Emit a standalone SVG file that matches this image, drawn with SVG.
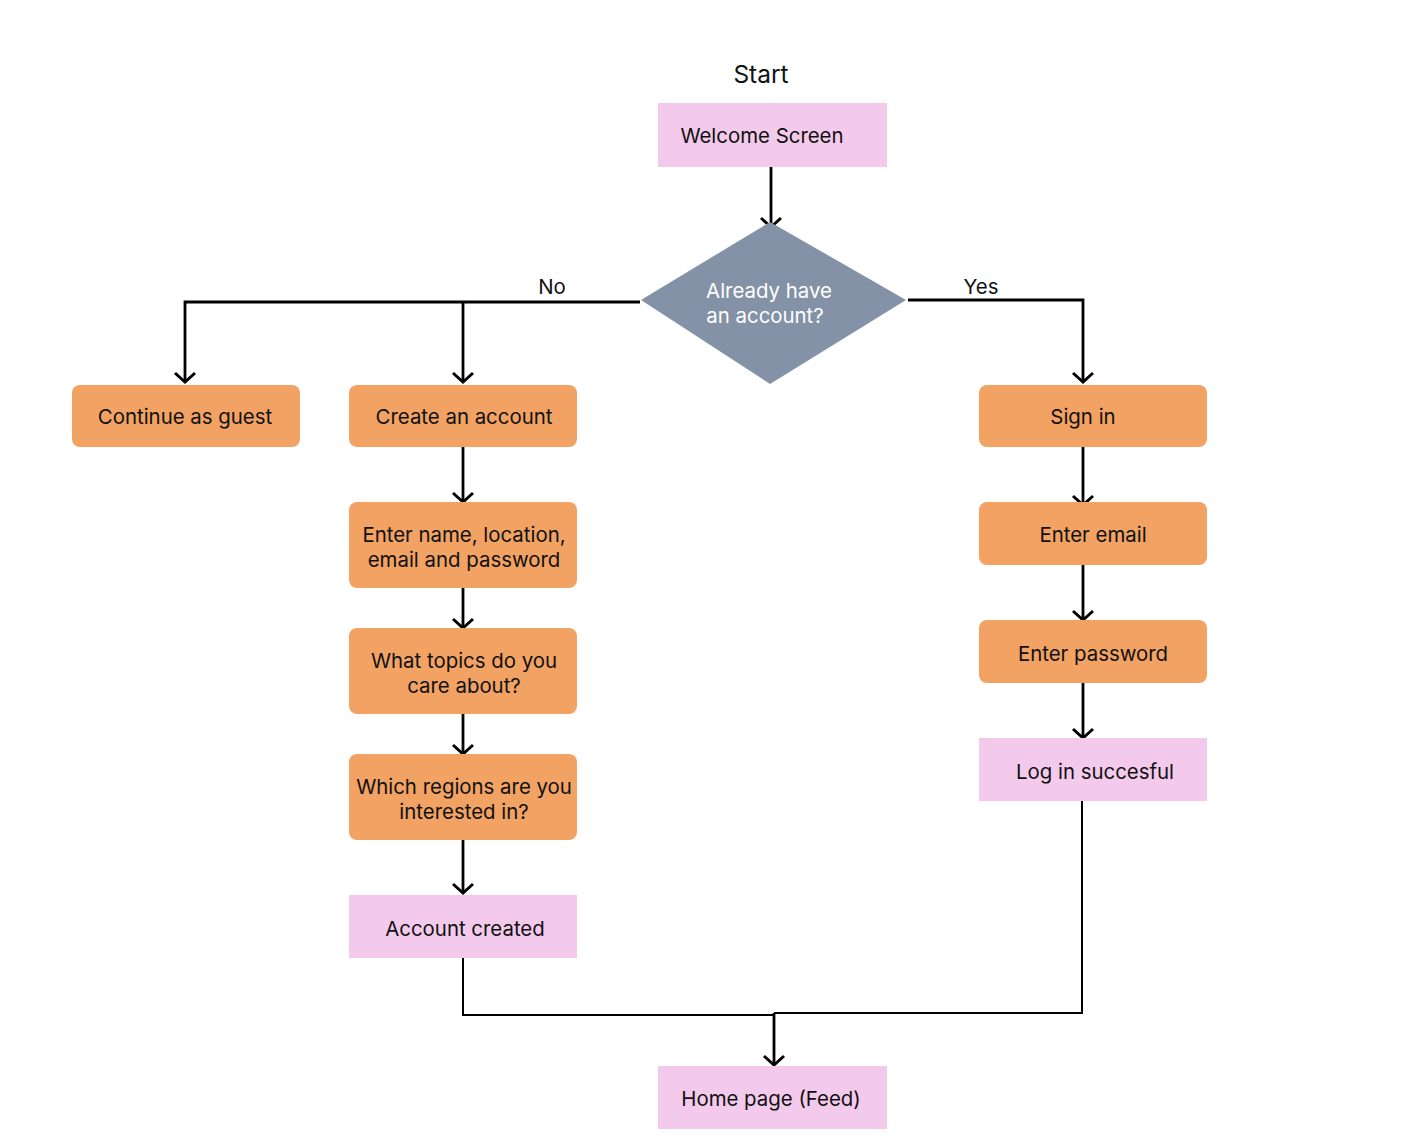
<svg xmlns="http://www.w3.org/2000/svg" width="1418" height="1140" viewBox="0 0 1418 1140">
<defs>
<marker id="arr" markerUnits="userSpaceOnUse" markerWidth="24" markerHeight="24" viewBox="-12 -12 24 24" refX="0" refY="0" orient="auto" overflow="visible">
<path d="M-9,-10 L0,0 L-9,10" fill="none" stroke="#000" stroke-width="3" stroke-linejoin="miter"/>
</marker>
</defs>
<style>
text{font-family:Inter,"Noto Sans","Liberation Sans",sans-serif;font-size:20.4px;fill:#111;text-anchor:middle;dominant-baseline:central}
.proc{fill:#F2A263}
.term{fill:#F4CAEC}
.dec{fill:#8492A7}
.w{fill:#fff}
.c{fill:none;stroke:#000;stroke-width:2.8}
.t{fill:none;stroke:#000;stroke-width:2}
</style>
<rect width="1418" height="1140" fill="#fff"/>
<text x="761" y="74" style="font-size:24.5px">Start</text>
<g id="connectors">
<path class="c" d="M771,167 V227" marker-end="url(#arr)"/>
<path class="c" d="M640,302 H185 V382" marker-end="url(#arr)"/>
<path class="c" d="M463,302 V382" marker-end="url(#arr)"/>
<path class="c" d="M908,300 H1083 V382" marker-end="url(#arr)"/>
<path class="c" d="M463,447 V502" marker-end="url(#arr)"/>
<path class="c" d="M463,588 V628" marker-end="url(#arr)"/>
<path class="c" d="M463,714 V754" marker-end="url(#arr)"/>
<path class="c" d="M463,840 V893" marker-end="url(#arr)"/>
<path class="c" d="M1083,447 V505" marker-end="url(#arr)"/>
<path class="c" d="M1083,565 V620" marker-end="url(#arr)"/>
<path class="c" d="M1083,683 V738" marker-end="url(#arr)"/>
<path class="t" d="M463,958 V1015 H774"/>
<path class="t" d="M1082,801 V1013 H774"/>
<path class="c" d="M774,1013 V1065" marker-end="url(#arr)"/>
<text x="552" y="286">No</text>
<text x="981" y="286">Yes</text>
</g>
<g id="welcome"><rect class="term" x="658" y="103" width="229" height="64"/><text x="762" y="135">Welcome Screen</text></g>
<g id="decision"><polygon class="dec" points="770,222 906,300 770,384 641,300"/><text class="w" x="769" y="290">Already have</text><text class="w" x="765" y="315">an account?</text></g>
<g id="guest"><rect class="proc" x="72" y="385" width="228" height="62" rx="8"/><text x="185" y="416">Continue as guest</text></g>
<g id="create"><rect class="proc" x="349" y="385" width="228" height="62" rx="8"/><text x="464" y="416">Create an account</text></g>
<g id="entername"><rect class="proc" x="349" y="502" width="228" height="86" rx="8"/><text x="464" y="534">Enter name, location,</text><text x="464" y="559">email and password</text></g>
<g id="topics"><rect class="proc" x="349" y="628" width="228" height="86" rx="8"/><text x="464" y="660">What topics do you</text><text x="464" y="685">care about?</text></g>
<g id="regions"><rect class="proc" x="349" y="754" width="228" height="86" rx="8"/><text x="464" y="786">Which regions are you</text><text x="464" y="811">interested in?</text></g>
<g id="created"><rect class="term" x="349" y="895" width="228" height="63"/><text x="465" y="928">Account created</text></g>
<g id="signin"><rect class="proc" x="979" y="385" width="228" height="62" rx="8"/><text x="1083" y="416">Sign in</text></g>
<g id="email"><rect class="proc" x="979" y="502" width="228" height="63" rx="8"/><text x="1093" y="534">Enter email</text></g>
<g id="password"><rect class="proc" x="979" y="620" width="228" height="63" rx="8"/><text x="1093" y="653">Enter password</text></g>
<g id="login"><rect class="term" x="979" y="738" width="228" height="63"/><text x="1095" y="771">Log in succesful</text></g>
<g id="home"><rect class="term" x="658" y="1066" width="229" height="63"/><text x="771" y="1098">Home page (Feed)</text></g>
</svg>
